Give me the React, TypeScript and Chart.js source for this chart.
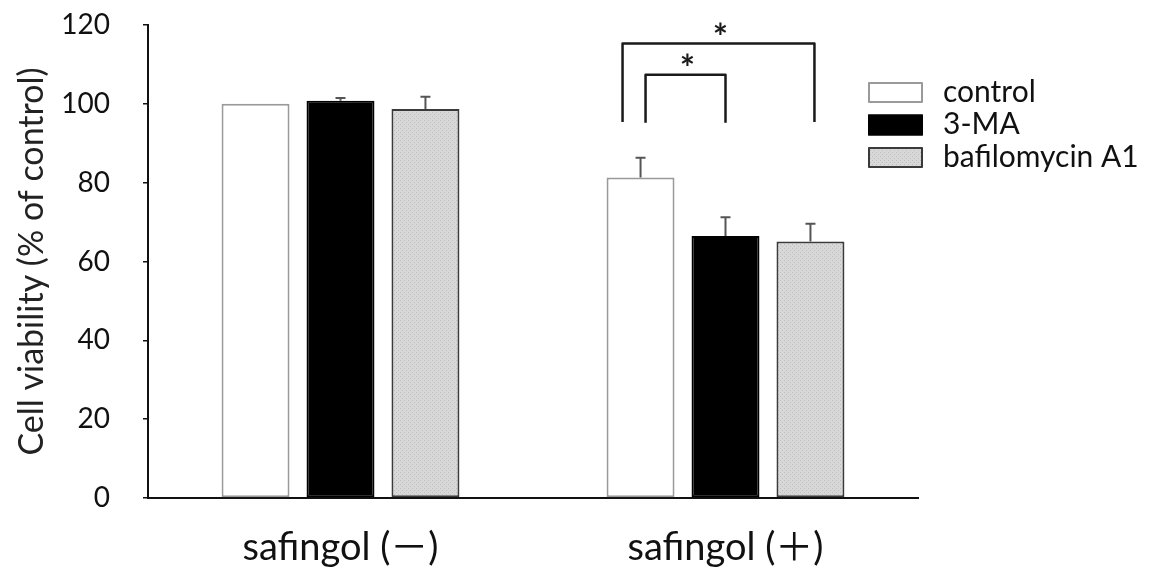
import React, { useEffect, useRef } from "react";
import { Chart, registerables } from "chart.js";

Chart.register(...registerables);

const categories = ["safingol (－)", "safingol (＋)"];
const seriesNames = ["control", "3-MA", "bafilomycin A1"];
const controlValues = [100, 81.3];
const mamValues = [100.8, 66.5];
const bafValues = [98.7, 65.1];
const controlErrors = [0, 5.0];
const mamErrors = [0.7, 4.7];
const bafErrors = [3.1, 4.5];
const yTicks = [0, 20, 40, 60, 80, 100, 120];
const yTitle = "Cell viability (% of control)";
// significance brackets: category, from series, to series, bar-top level, leg bottom level
const brackets = [
  { cat: 1, from: 0, to: 2, top: 115.3, bottom: 95.4, dxFrom: -18, dxTo: 4, label: "*" },
  { cat: 1, from: 0, to: 1, top: 107.4, bottom: 95.2, dxFrom: 5, dxTo: 0, label: "*" },
];

const FONT = "Lato, 'Open Sans', sans-serif";
const XFONT = "Lato, 'Noto Sans CJK JP', sans-serif";

function makePattern(): CanvasPattern | string {
  const c = document.createElement("canvas");
  c.width = 4;
  c.height = 4;
  const g = c.getContext("2d");
  if (!g) return "#d4d4d4";
  g.fillStyle = "#d8d8d8";
  g.fillRect(0, 0, 4, 4);
  g.fillStyle = "#bdbdbd";
  g.fillRect(0, 0, 1, 1);
  g.fillRect(2, 2, 1, 1);
  const p = g.createPattern(c, "repeat");
  return p || "#d4d4d4";
}

export default function App() {
  const ref = useRef<HTMLCanvasElement | null>(null);

  useEffect(() => {
    document.body.style.margin = "0";
    const canvas = ref.current;
    if (!canvas) return;
    const pattern = makePattern();
    const errors = [controlErrors, mamErrors, bafErrors];

    const overlay = {
      id: "overlay",
      afterDatasetsDraw(chart: any) {
        const ctx = chart.ctx as CanvasRenderingContext2D;
        const y = chart.scales.y;
        ctx.save();
        // error bars
        chart.data.datasets.forEach((ds: any, di: number) => {
          const meta = chart.getDatasetMeta(di);
          meta.data.forEach((bar: any, i: number) => {
            const err = errors[di][i];
            if (!err) return;
            const v = ds.data[i];
            const yTop = y.getPixelForValue(v + err);
            const yBase = y.getPixelForValue(v);
            ctx.strokeStyle = "#555";
            ctx.lineWidth = 2;
            ctx.beginPath();
            ctx.moveTo(bar.x, yBase);
            ctx.lineTo(bar.x, yTop);
            ctx.moveTo(bar.x - 5, yTop);
            ctx.lineTo(bar.x + 5, yTop);
            ctx.stroke();
          });
        });
        // brackets
        brackets.forEach((b) => {
          const x1 = chart.getDatasetMeta(b.from).data[b.cat].x + b.dxFrom;
          const x2 = chart.getDatasetMeta(b.to).data[b.cat].x + b.dxTo;
          const yt = y.getPixelForValue(b.top);
          const yb = y.getPixelForValue(b.bottom);
          ctx.strokeStyle = "#1a1a1a";
          ctx.lineWidth = 2.5;
          ctx.lineJoin = "round";
          ctx.beginPath();
          ctx.moveTo(x1, yb);
          ctx.lineTo(x1, yt);
          ctx.lineTo(x2, yt);
          ctx.lineTo(x2, yb);
          ctx.stroke();
          ctx.fillStyle = "#1a1a1a";
          ctx.font = `bold 36px ${FONT}`;
          ctx.textAlign = "center";
          ctx.textBaseline = "alphabetic";
          ctx.fillText(b.label, (x1 + x2) / 2 + 2, yt + 6);
        });
        // legend
        chart.data.datasets.forEach((ds: any, di: number) => {
          const bx = 868;
          const by = 82 + di * 32.5;
          ctx.fillStyle = ds.backgroundColor;
          ctx.fillRect(bx, by, 55, 21);
          ctx.strokeStyle = ds.borderColor;
          ctx.lineWidth = 2;
          ctx.strokeRect(bx + 1, by + 1, 53, 19);
          ctx.fillStyle = "#111";
          ctx.font = `30px ${FONT}`;
          ctx.textAlign = "left";
          ctx.textBaseline = "middle";
          ctx.fillText(ds.label, 943, by + 10);
        });
        ctx.restore();
      },
    };

    const chart = new Chart(canvas, {
      type: "bar",
      data: {
        labels: categories,
        datasets: [
          {
            label: seriesNames[0],
            data: controlValues,
            backgroundColor: "#ffffff",
            borderColor: "#9a9a9a",
            borderWidth: 2,
            borderSkipped: false,
            categoryPercentage: 0.662,
            barPercentage: 0.8,
          },
          {
            label: seriesNames[1],
            data: mamValues,
            backgroundColor: "#000000",
            borderColor: "#000000",
            borderWidth: 2,
            borderSkipped: false,
            categoryPercentage: 0.662,
            barPercentage: 0.8,
          },
          {
            label: seriesNames[2],
            data: bafValues,
            backgroundColor: pattern as any,
            borderColor: "#3a3a3a",
            borderWidth: 2,
            borderSkipped: false,
            categoryPercentage: 0.662,
            barPercentage: 0.8,
          },
        ],
      },
      options: {
        responsive: false,
        animation: false,
        devicePixelRatio: 1,
        layout: { padding: { top: 25, right: 238, left: 0, bottom: 0 } },
        plugins: { legend: { display: false }, tooltip: { enabled: false } },
        scales: {
          x: {
            grid: { display: false },
            border: { display: true, color: "#111", width: 2 },
            ticks: {
              color: "#111",
              font: { family: XFONT, size: 38 },
              padding: 19,
            },
            afterFit(scale: any) {
              scale.height = 75;
            },
          },
          y: {
            min: 0,
            max: 120,
            afterBuildTicks(scale: any) {
              scale.ticks = yTicks.map((v) => ({ value: v }));
            },
            grid: {
              display: true,
              drawOnChartArea: false,
              drawTicks: true,
              tickLength: 5,
              color: "#111",
              lineWidth: 1.5,
            },
            border: { display: true, color: "#111", width: 2 },
            ticks: {
              color: "#111",
              font: { family: FONT, size: 28 },
              padding: 33,
            },
            title: {
              display: true,
              text: yTitle,
              color: "#222",
              font: { family: FONT, size: 34, weight: "normal" },
              padding: { top: 12, bottom: 0 },
            },
            afterFit(scale: any) {
              scale.width = 148;
              scale.paddingTop = 0;
              scale.paddingBottom = 0;
            },
          },
        },
      },
      plugins: [overlay],
    });
    return () => chart.destroy();
  }, []);

  return (
    <div style={{ width: 1156, height: 573, background: "#fff" }}>
      <canvas ref={ref} width={1156} height={573} style={{ display: "block" }} />
    </div>
  );
}
